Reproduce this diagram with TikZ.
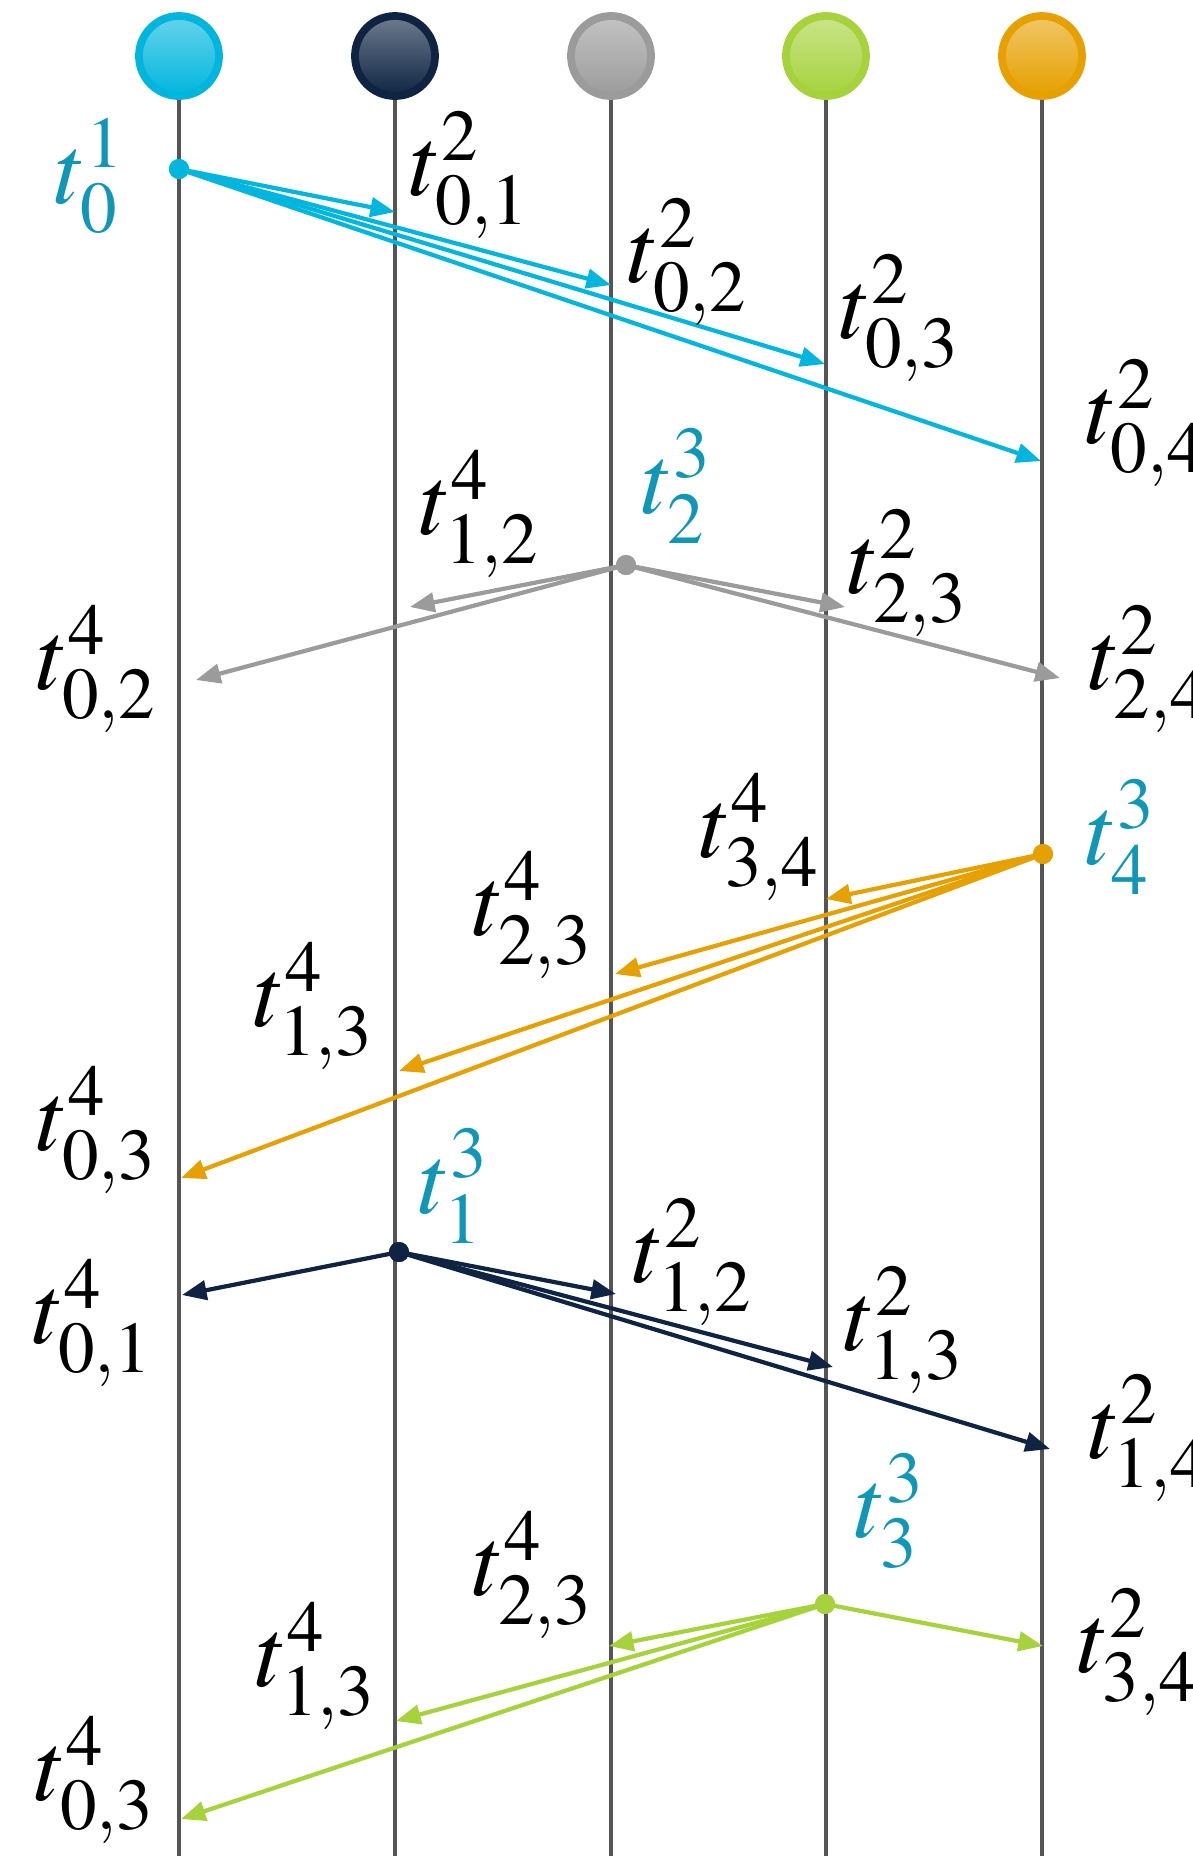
\documentclass[tikz,border=0pt]{standalone}
\usepackage{mathptmx}
\usetikzlibrary{arrows.meta}
\definecolor{cyanp}{RGB}{0,182,222}
\definecolor{navyp}{RGB}{14,36,66}
\definecolor{grayp}{RGB}{155,155,155}
\definecolor{greenp}{RGB}{166,210,60}
\definecolor{orangep}{RGB}{230,160,0}
\definecolor{tealp}{RGB}{16,150,182}
\definecolor{linep}{RGB}{85,85,85}
\newcommand{\tlab}[2]{$t^{#1}_{#2}$}
\tikzset{
    proc/.style={circle, draw=#1, line width=2.2pt, minimum size=0.8cm, inner sep=0pt,
        top color=#1!60!white, bottom color=#1},
    timeline/.style={draw=linep, line width=1.2pt},
    sender/.style={circle, fill=#1, inner sep=0pt, minimum size=0.2cm},
    msg/.style={draw=#1, line width=1.2pt, -{Triangle[length=7pt,width=5.5pt]}},
    lbl/.style={font=\fontsize{28}{30}\selectfont, inner sep=0pt},
    tlbl/.style={lbl, text=tealp}
}
\begin{document}
\begin{tikzpicture}[x=0.01cm, y=-0.01cm]
    \useasboundingbox (0,0) rectangle (1193,1856);
    \coordinate (bot) at (0,1856);

    % Processus et lignes de temps
    \node[proc=cyanp] (p0) at (179,56) {};
    \node[proc=navyp] (p1) at (395,56) {};
    \node[proc=grayp] (p2) at (611,56) {};
    \node[proc=greenp] (p3) at (826,56) {};
    \node[proc=orangep] (p4) at (1042,56) {};
    \foreach \p in {p0,p1,p2,p3,p4}
        \draw[timeline] (\p.south) -- (\p |- bot);

    % Envoi de t0
    \coordinate (c1) at (395,212);
    \coordinate (c2) at (611,285);
    \coordinate (c3) at (825,364);
    \coordinate (c4) at (1041,461);
    \node[sender=cyanp] (s0) at (179,169) {};
    \foreach \e in {c1,c2,c3,c4}
        \draw[msg=cyanp] (s0.center) -- (\e);
    \node[sender=cyanp] at (s0) {};
    \node[tlbl] (l0) at (90,176) {\tlab{1}{0}};
    \node[lbl] (l01) at (470,175) {\tlab{2}{0{,}1}};
    \node[lbl] (l02) at (688,262) {\tlab{2}{0{,}2}};
    \node[lbl] (l03) at (900,318) {\tlab{2}{0{,}3}};
    \node[lbl, anchor=west] (l04) at (1085,423) {\tlab{2}{0{,}4}};

    % Envoi de t2
    \coordinate (g0) at (196,680);
    \coordinate (g1) at (410,607);
    \coordinate (g3) at (845,607);
    \coordinate (g4) at (1060,678);
    \node[sender=grayp] (s2) at (626,565) {};
    \foreach \e in {g0,g1,g3,g4}
        \draw[msg=grayp] (s2.center) -- (\e);
    \node[sender=grayp] at (s2) {};
    \node[tlbl] (l2) at (677,486) {\tlab{3}{2}};
    \node[lbl] (l12) at (480,514) {\tlab{4}{1{,}2}};
    \node[lbl] (l23) at (908,573) {\tlab{2}{2{,}3}};
    \node[lbl] (l02b) at (97,669) {\tlab{4}{0{,}2}};
    \node[lbl, anchor=west] (l24) at (1088,669) {\tlab{2}{2{,}4}};

    % Envoi de t4
    \coordinate (o0) at (181,1178);
    \coordinate (o1) at (399,1071);
    \coordinate (o2) at (615,974);
    \coordinate (o3) at (826,899);
    \node[sender=orangep] (s4) at (1043,854) {};
    \foreach \e in {o0,o1,o2,o3}
        \draw[msg=orangep] (s4.center) -- (\e);
    \node[sender=orangep] at (s4) {};
    \node[tlbl] (l4) at (1121,837) {\tlab{3}{4}};
    \node[lbl] (l34) at (760,837) {\tlab{4}{3{,}4}};
    \node[lbl] (l23b) at (533,915) {\tlab{4}{2{,}3}};
    \node[lbl] (l13) at (314,1006) {\tlab{4}{1{,}3}};
    \node[lbl] (l03b) at (97,1130) {\tlab{4}{0{,}3}};

    % Envoi de t1
    \coordinate (n0) at (182,1295);
    \coordinate (n2) at (616,1294);
    \coordinate (n3) at (833,1367);
    \coordinate (n4) at (1050,1449);
    \node[sender=navyp] (s1) at (399,1252) {};
    \foreach \e in {n0,n2,n3,n4}
        \draw[msg=navyp] (s1.center) -- (\e);
    \node[sender=navyp] at (s1) {};
    \node[tlbl] (l1) at (454,1186) {\tlab{3}{1}};
    \node[lbl] (l12b) at (693,1262) {\tlab{2}{1{,}2}};
    \node[lbl] (l13b) at (904,1330) {\tlab{2}{1{,}3}};
    \node[lbl, anchor=west] (l14) at (1088,1438) {\tlab{2}{1{,}4}};
    \node[lbl] (l01b) at (93,1323) {\tlab{4}{0{,}1}};

    % Envoi de t3
    \coordinate (v0) at (181,1819);
    \coordinate (v1) at (396,1721);
    \coordinate (v2) at (609,1646);
    \coordinate (v4) at (1043,1646);
    \node[sender=greenp] (s3) at (825,1604) {};
    \foreach \e in {v0,v1,v2,v4}
        \draw[msg=greenp] (s3.center) -- (\e);
    \node[sender=greenp] at (s3) {};
    \node[tlbl] (l3) at (890,1511) {\tlab{3}{3}};
    \node[lbl] (l23c) at (533,1575) {\tlab{4}{2{,}3}};
    \node[lbl] (l13c) at (316,1666) {\tlab{4}{1{,}3}};
    \node[lbl] (l03c) at (95,1780) {\tlab{4}{0{,}3}};
    \node[lbl, anchor=west] (l34b) at (1077,1652) {\tlab{2}{3{,}4}};
\end{tikzpicture}
\end{document}
